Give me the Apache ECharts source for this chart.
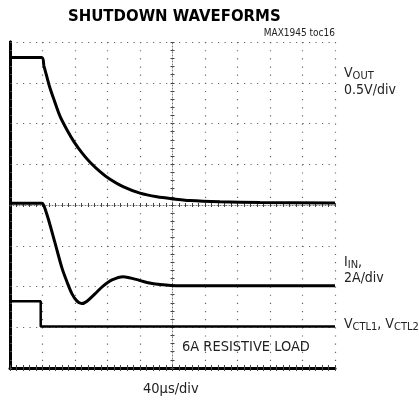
<!DOCTYPE html>
<html><head><meta charset="utf-8">
<script src="https://cdn.jsdelivr.net/npm/echarts@6/dist/echarts.min.js"></script>
<style>html,body{margin:0;padding:0;background:#fff}#c{width:419px;height:402px}</style>
</head><body><div id="c"></div>
<script>
// time in microseconds (40 us/div), vertical in scope divisions (0 = bottom, 8 = top)
const vout = [[0,7.62],[39.0,7.62],[41.8,7.41],[45.5,7.14],[49.2,6.87],[54.2,6.58],[61.5,6.18],[70.2,5.84],[78.8,5.55],[88.6,5.28],[98.5,5.05],[110.8,4.82],[123.1,4.63],[139.1,4.45],[160,4.29],[180.9,4.20],[200.6,4.15],[221.5,4.11],[258.5,4.08],[307.7,4.06],[400,4.05]];
const iin = [[0,4.04],[39.4,4.04],[41.8,3.98],[46.8,3.68],[55.4,3.07],[64.0,2.45],[70.2,2.11],[76.3,1.82],[82.5,1.64],[88.2,1.58],[94.8,1.64],[104.6,1.82],[114.5,2.01],[125.5,2.16],[139.4,2.24],[153.8,2.18],[168.6,2.10],[184.6,2.05],[209.2,2.02],[295.4,2.02],[400,2.02]];
const vctl = [[0,1.64],[37.8,1.64],[37.8,1.02],[400,1.02]];
const xMin = 0, xMax = 400, xStep = 40;
const yMin = 0, yMax = 8, yStep = 1;

const FONT = "'Liberation Sans Narrow','DejaVu Sans Condensed','Liberation Sans',sans-serif";
const chart = echarts.init(document.getElementById('c'), null, {renderer:'canvas'});
const gridL = 10, gridT = 42, gridW = 325, gridH = 326;

function xa(pos, opts){
  return Object.assign({type:'value', min:xMin, max:xMax, interval:xStep, position:pos,
    axisLabel:{show:false}, splitLine:{show:false}}, opts);
}
function ya(pos, opts){
  return Object.assign({type:'value', min:yMin, max:yMax, interval:yStep, position:pos,
    axisLabel:{show:false}, splitLine:{show:false}}, opts);
}
const tickStyle = {color:'#444', width:1};
const centerLine = {lineStyle:{color:'#777', width:1, type:[1,2]}};
const lab = (fs) => ({fontFamily:FONT, fontWeight:'normal', fontSize:fs, color:'#222'});
const richLab = {rich:{
  m:{fontFamily:FONT, fontWeight:'normal', fontSize:14, color:'#222', lineHeight:14, verticalAlign:'bottom'},
  s:{fontFamily:FONT, fontWeight:'normal', fontSize:11, color:'#222', lineHeight:14, verticalAlign:'bottom', padding:[0,0,-2,0]}
}};

chart.setOption({
  animation:false,
  backgroundColor:'#fff',
  title:[
    {text:'SHUTDOWN WAVEFORMS', left:68, top:8, padding:0,
     textStyle:{fontFamily:FONT, fontWeight:'bold', fontSize:16.6, color:'#000'}},
    {text:'MAX1945 toc16', right:84, top:28, padding:0, textStyle:lab(10)},
    {text:'6A RESISTIVE LOAD', left:182, top:340, padding:0, textStyle:lab(14.5)},
    {text:'40\u00b5s/div', left:143, top:382, padding:0, textStyle:lab(14.5)},
    {text:'{m|V}{s|OUT}', left:344, top:66, padding:0, textStyle:richLab},
    {text:'0.5V/div', left:344, top:83, padding:0, textStyle:lab(14)},
    {text:'{m|I}{s|IN}{m|,}', left:344, top:255, padding:0, textStyle:richLab},
    {text:'2A/div', left:344, top:271, padding:0, textStyle:lab(14)},
    {text:'{m|V}{s|CTL1}{m|, V}{s|CTL2}', left:344, top:317, padding:0, textStyle:richLab}
  ],
  grid:{left:gridL, top:gridT, width:gridW, height:gridH, containLabel:false},
  xAxis:[
    xa('bottom', {axisLine:{lineStyle:{color:'#000', width:3}}, axisTick:{inside:true, length:3, lineStyle:tickStyle},
      minorTick:{show:true, splitNumber:5, length:3, lineStyle:tickStyle},
      splitLine:{show:true, lineStyle:{color:'#666', width:1.2, type:[1.2,6.95]}}}),
    xa('top', {axisLine:{lineStyle:{color:'#000', width:2}}, axisTick:{inside:true, length:3, lineStyle:tickStyle},
      minorTick:{show:true, splitNumber:5, length:3, lineStyle:tickStyle}}),
    xa('bottom', {offset:-gridH/2, axisLine:centerLine, axisTick:{inside:true, length:2, lineStyle:tickStyle},
      minorTick:{show:true, splitNumber:5, length:2, lineStyle:tickStyle}}),
    xa('bottom', {offset:-gridH/2, axisLine:{show:false}, axisTick:{inside:false, length:2, lineStyle:tickStyle},
      minorTick:{show:true, splitNumber:5, length:2, lineStyle:tickStyle}})
  ],
  yAxis:[
    ya('left', {axisLine:{lineStyle:{color:'#000', width:3}}, axisTick:{inside:true, length:2, lineStyle:tickStyle},
      minorTick:{show:true, splitNumber:5, length:2, lineStyle:tickStyle},
      splitLine:{show:true, lineStyle:{color:'#666', width:1.2, type:[1.2,5.3]}}}),
    ya('right', {axisLine:{lineStyle:{color:'#000', width:3}}, axisTick:{show:false}}),
    ya('left', {offset:-gridW/2, axisLine:centerLine, axisTick:{inside:true, length:2, lineStyle:tickStyle},
      minorTick:{show:true, splitNumber:5, length:2, lineStyle:tickStyle}}),
    ya('left', {offset:-gridW/2, axisLine:{show:false}, axisTick:{inside:false, length:2, lineStyle:tickStyle},
      minorTick:{show:true, splitNumber:5, length:2, lineStyle:tickStyle}})
  ],
  series:[
    {name:'VOUT', type:'line', data:vout, xAxisIndex:0, yAxisIndex:0, showSymbol:false, smooth:0.3,
     lineStyle:{color:'#000', width:3}},
    {name:'IIN', type:'line', data:iin, xAxisIndex:0, yAxisIndex:0, showSymbol:false, smooth:0.3,
     lineStyle:{color:'#000', width:3}},
    {name:'VCTL', type:'line', data:vctl, xAxisIndex:0, yAxisIndex:0, showSymbol:false,
     lineStyle:{color:'#000', width:2.5}}
  ]
});
</script></body></html>
